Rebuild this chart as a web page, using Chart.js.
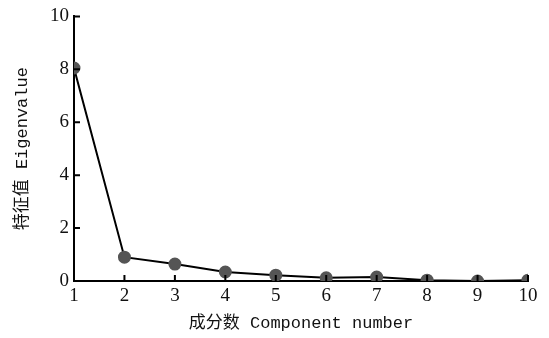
<!DOCTYPE html>
<html>
<head>
<meta charset="utf-8">
<script src="https://cdn.jsdelivr.net/npm/chart.js@4"></script>
<style>
html, body { margin: 0; padding: 0; background: #fff; }
#wrap { width: 549px; height: 338px; }
</style>
</head>
<body>
<div id="wrap"><canvas id="scree"></canvas></div>
<script>
const components = [1, 2, 3, 4, 5, 6, 7, 8, 9, 10];
const eigenvalues = [8.05, 0.9, 0.64, 0.34, 0.22, 0.12, 0.15, 0.03, 0.0, 0.03];
const yTicks = [0, 2, 4, 6, 8, 10];

const tickFont = { family: "'Liberation Serif', 'DejaVu Serif', serif", size: 19 };
const titleFont = { family: "'Liberation Mono', 'Noto Sans CJK SC', monospace", size: 17 };

// inward tick marks, drawn from the scales
const innerTicks = {
    id: 'innerTicks',
    afterDraw(chart) {
        const c = chart.ctx;
        const xs = chart.scales.x, ys = chart.scales.y;
        c.save();
        c.strokeStyle = '#000';
        c.lineWidth = 2;
        c.beginPath();
        components.slice(1).forEach(v => {
            const px = xs.getPixelForValue(v);
            c.moveTo(px, ys.bottom);
            c.lineTo(px, ys.bottom - 6);
        });
        yTicks.slice(1).forEach(v => {
            const py = ys.getPixelForValue(v);
            c.moveTo(xs.left, py);
            c.lineTo(xs.left + 6, py);
        });
        c.stroke();
        c.restore();
    }
};

new Chart(document.getElementById('scree'), {
    type: 'line',
    data: {
        datasets: [{
            data: components.map((x, i) => ({ x: x, y: eigenvalues[i] })),
            borderColor: '#000',
            borderWidth: 2,
            backgroundColor: '#555',
            pointBackgroundColor: '#555',
            pointBorderColor: '#555',
            pointRadius: 5.5,
            tension: 0,
            fill: false
        }]
    },
    options: {
        responsive: true,
        maintainAspectRatio: false,
        animation: false,
        layout: { padding: { top: 14, right: 21, left: 0, bottom: 0 } },
        scales: {
            x: {
                type: 'linear',
                min: 1, max: 10,
                afterFit(s) { s.height = 57; },
                grid: { display: true, drawOnChartArea: false, drawTicks: false },
                border: { color: '#000', width: 2 },
                ticks: { stepSize: 1, color: '#111', font: tickFont, padding: 4, maxRotation: 0 },
                title: { display: true, text: '成分数 Component number', color: '#111', font: titleFont, padding: { top: 10 } }
            },
            y: {
                min: 0, max: 10,
                afterFit(s) { s.width = 74; },
                grid: { display: true, drawOnChartArea: false, drawTicks: false },
                border: { color: '#000', width: 2 },
                ticks: { stepSize: 2, color: '#111', font: tickFont, padding: 5 },
                title: { display: true, text: '特征值 Eigenvalue', color: '#111', font: titleFont, padding: { top: 12, bottom: 0 } }
            }
        },
        plugins: {
            legend: { display: false },
            tooltip: { enabled: false }
        }
    },
    plugins: [innerTicks]
});
</script>
</body>
</html>
